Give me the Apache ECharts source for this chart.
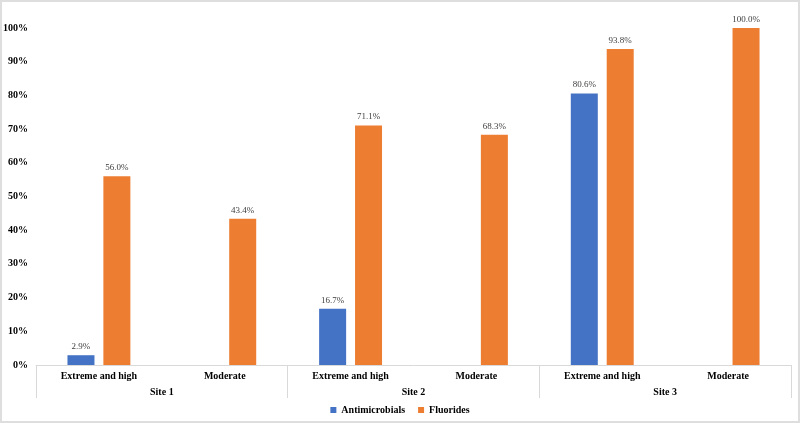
<!DOCTYPE html>
<html>
<head>
<meta charset="utf-8">
<script src="https://cdn.jsdelivr.net/npm/echarts@6/dist/echarts.min.js"></script>
<style>
    body { margin: 0; background: #fff; }
    #chart { width: 800px; height: 423px; }
    #frame {
        position: absolute; left: 0; top: 0; width: 800px; height: 423px;
        box-sizing: border-box; border: 2px solid #dedede; pointer-events: none;
    }
</style>
</head>
<body>
<div id="chart"></div>
<div id="frame"></div>
<script>
// sub-categories (level 1) and sites (level 2)
var levels = ['Extreme and high', 'Moderate', 'Extreme and high', 'Moderate', 'Extreme and high', 'Moderate'];
var sites = ['Site 1', 'Site 2', 'Site 3'];
var antimicrobials = [2.9, null, 16.7, null, 80.6, null];
var fluorides = [56.0, 43.4, 71.1, 68.3, 93.8, 100.0];

function init() {
    var myChart = echarts.init(document.getElementById('chart'));
    let blue = '#4472C4';
    let orange = '#ED7D31';
    let lineColor = '#d9d9d9';
    let font = '"Liberation Serif", "Times New Roman", serif';

    var labelStyle = {
        show: true,
        position: 'top',
        distance: 4,
        fontFamily: font,
        fontSize: 9,
        color: '#404040',
        formatter: function (p) {
            return p.value.toFixed(1) + '%';
        }
    };

    myChart.setOption({
        animation: false,
        backgroundColor: '#fff',
        grid: {
            left: 36,
            right: 9,
            top: 28,
            bottom: 58
        },
        legend: {
            bottom: 3,
            left: 'center',
            icon: 'rect',
            itemWidth: 6,
            itemHeight: 6,
            itemGap: 13,
            textStyle: {
                fontFamily: font,
                fontWeight: 'bold',
                fontSize: 10,
                color: '#000'
            },
            data: ['Antimicrobials', 'Fluorides']
        },
        xAxis: [
            {
                type: 'category',
                data: levels,
                axisLine: { lineStyle: { color: lineColor } },
                axisTick: { show: false },
                axisLabel: {
                    margin: 6,
                    fontFamily: font,
                    fontWeight: 'bold',
                    fontSize: 10,
                    color: '#000'
                }
            },
            {
                type: 'category',
                data: sites,
                position: 'bottom',
                axisLine: { show: false },
                axisTick: {
                    show: true,
                    length: 33,
                    interval: 0,
                    lineStyle: { color: lineColor }
                },
                axisLabel: {
                    margin: 22,
                    fontFamily: font,
                    fontWeight: 'bold',
                    fontSize: 10,
                    color: '#000'
                }
            }
        ],
        yAxis: {
            type: 'value',
            min: 0,
            max: 100,
            interval: 10,
            axisLine: { show: false },
            axisTick: { show: false },
            splitLine: { show: false },
            axisLabel: {
                margin: 8,
                formatter: '{value}%',
                fontFamily: font,
                fontWeight: 'bold',
                fontSize: 10,
                color: '#000'
            }
        },
        series: [
            {
                name: 'Antimicrobials',
                type: 'bar',
                xAxisIndex: 0,
                data: antimicrobials,
                barWidth: 27,
                barGap: '33%',
                itemStyle: { color: blue },
                label: labelStyle
            },
            {
                name: 'Fluorides',
                type: 'bar',
                xAxisIndex: 0,
                data: fluorides,
                barWidth: 27,
                itemStyle: { color: orange },
                label: labelStyle
            }
        ]
    });
}
document.addEventListener('DOMContentLoaded', init);
</script>
</body>
</html>
